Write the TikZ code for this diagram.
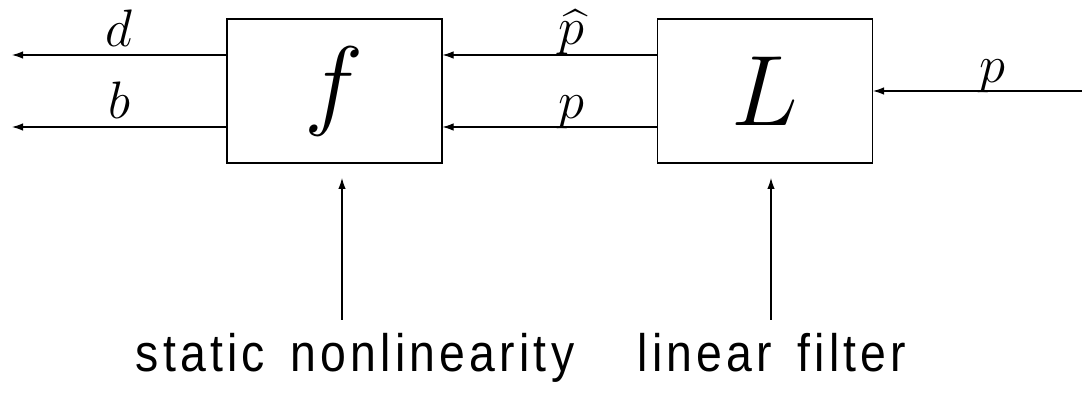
\documentclass[tikz,border=0pt]{standalone}
\usepackage{fix-cm}
\usepackage{amsmath}
\usepackage{fontspec}
\newfontfamily\capfont[FakeStretch=0.88,LetterSpace=8,WordSpace=1.5]{Liberation Sans}
\usetikzlibrary{arrows.meta}
\tikzset{%
	block/.style = {draw,line width=0.6pt,minimum width=4.3cm,minimum height=2.88cm,inner sep=0,font=\fontsize{57}{57}\selectfont},
	sig/.style = {line width=0.6pt,-{Latex[length=2.2mm,width=1.5mm]}},
	lab/.style = {anchor=base,yshift=0.16cm,font=\fontsize{30}{30}\selectfont},
	caption/.style = {font=\capfont\fontsize{30}{30}\selectfont,anchor=base}%
}

\begin{document}
\begin{tikzpicture}
		\useasboundingbox (0,0) rectangle (21.64,7.88);
		
		\node(f)[block]at(6.69,6.06){$f$};
		\node(L)[block]at(15.3,6.06){$L$};
		
		% outputs of f
		\coordinate(dout)at(0.24,6.78);
		\coordinate(bout)at(0.24,5.34);
		\draw[sig](f.west|-dout)--(dout)node[midway,lab]{$d$};
		\draw[sig](f.west|-bout)--(bout)node[midway,lab]{$b$};
		
		% from L to f
		\draw[sig](L.west|-dout)--(f.east|-dout)node[pos=.4,lab,yshift=0.04cm]{$\widehat{p}$};
		\draw[sig](L.west|-bout)--(f.east|-bout)node[pos=.4,lab]{$p$};
		
		% input
		\coordinate(pin)at(21.64,6.06);
		\draw[sig](pin)--(L.east)node[pos=.43,lab]{$p$};
		
		% what the blocks are
		\coordinate(fa)at(6.84,1.48);
		\coordinate(La)at(15.42,1.48);
		\draw[sig](fa)--++(0,2.84);
		\draw[sig](La)--++(0,2.84);
		\node(fname)[caption]at(7.1,0.44){static nonlinearity};
		\node(Lname)[caption]at(15.44,0.44){linear filter};
\end{tikzpicture}
\end{document}
